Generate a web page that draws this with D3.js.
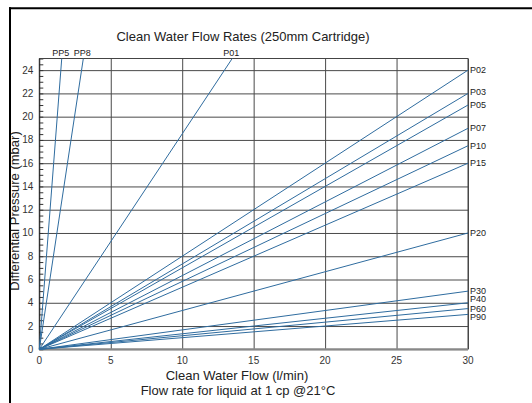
<!DOCTYPE html>
<html>
<head>
<meta charset="utf-8">
<script src="https://cdn.jsdelivr.net/npm/d3@7"></script>
<style>
  body { margin: 0; background: #fff; }
  text { font-family: "Liberation Sans", Arial, sans-serif; }
</style>
</head>
<body>
<div id="chart"></div>
<script>
// Clean water flow rates chart

var seriesNames = ['PP5', 'PP8', 'P01', 'P02', 'P03', 'P05', 'P07', 'P10', 'P15', 'P20', 'P30', 'P40', 'P60', 'P90'];
// where each line leaves the chart (flow l/min, pressure mbar)
var endFlow = [1.57, 3.08, 13.5, 30, 30, 30, 30, 30, 30, 30, 30, 30, 30, 30];
var endPressure = [25, 25, 25, 24, 22, 21, 19, 17.5, 16, 10, 5, 4, 3.5, 3];

var xTicks = [0, 5, 10, 15, 20, 25, 30];
var yTicks = [0, 2, 4, 6, 8, 10, 12, 14, 16, 18, 20, 22, 24];

var width = 532, height = 403;

var margin = {
    top: 58.5,
    bottom: 53.7,
    left: 39.3,
    right: 64
}

var svg = d3.select('#chart')
    .append('svg')
    .attr('width', width)
    .attr('height', height);

var w = width - margin.left - margin.right;
var h = height - margin.top - margin.bottom;

var x = d3.scaleLinear().domain([0, 30]).range([0, w]);
var y = d3.scaleLinear().domain([0, 25]).range([h, 0]);

var g = svg.append('g')
    .attr('transform', 'translate(' + margin.left + ',' + margin.top + ')');

// grid lines
g.append('g')
    .attr('class', 'grid')
    .call(d3.axisLeft(y).tickValues(yTicks).tickSize(-w).tickFormat(''))
    .call(function(s) {
        s.select('.domain').remove();
        s.selectAll('line').attr('stroke', '#4a4a4a').attr('stroke-width', 1);
    });

g.append('g')
    .attr('class', 'grid')
    .attr('transform', 'translate(0,' + h + ')')
    .call(d3.axisBottom(x).tickValues(xTicks).tickSize(-h).tickFormat(''))
    .call(function(s) {
        s.select('.domain').remove();
        s.selectAll('line').attr('stroke', '#4a4a4a').attr('stroke-width', 1);
    });

// minor ticks on left axis
g.append('g')
    .call(d3.axisRight(y).tickValues(d3.range(0, 25.01, 0.5)).tickSize(4).tickFormat(''))
    .call(function(s) {
        s.select('.domain').remove();
        s.selectAll('line').attr('stroke', '#333');
    });

// frame of the plot
g.append('line').attr('x1', 0).attr('x2', w).attr('y1', 0).attr('y2', 0)
    .attr('stroke', '#444');
g.append('line').attr('x1', w).attr('x2', w).attr('y1', 0).attr('y2', h)
    .attr('stroke', '#444');
g.append('line').attr('x1', 0).attr('x2', 0).attr('y1', 0).attr('y2', h)
    .attr('stroke', '#222');
g.append('line').attr('x1', 0).attr('x2', w).attr('y1', h).attr('y2', h)
    .attr('stroke', '#888').attr('stroke-width', 2);

// tick labels
g.selectAll('.xlab')
    .data(xTicks)
    .enter()
    .append('text')
    .attr('x', function(d) { return x(d); })
    .attr('y', h + 14.5)
    .attr('text-anchor', 'middle')
    .attr('font-size', 10)
    .attr('fill', '#333')
    .text(function(d) { return d; });

g.selectAll('.ylab')
    .data(yTicks)
    .enter()
    .append('text')
    .attr('x', -6)
    .attr('y', function(d) { return y(d) + 3.5; })
    .attr('text-anchor', 'end')
    .attr('font-size', 10)
    .attr('fill', '#333')
    .text(function(d) { return d; });

// series lines
var lines = seriesNames.map(function(n, i) {
    return { name: n, flow: endFlow[i], p: endPressure[i] };
});

g.selectAll('.series')
    .data(lines)
    .enter()
    .append('line')
    .attr('x1', x(0))
    .attr('y1', y(0))
    .attr('x2', function(d) { return x(d.flow); })
    .attr('y2', function(d) { return y(d.p); })
    .attr('stroke', '#2f6c9f')
    .attr('stroke-width', 1);

// labels for lines
var nudge = { P03: -2, P30: -0.5, P40: -3.5, P60: -0.2, P90: 2.6, P05: -0.5 };

g.selectAll('.slab')
    .data(lines)
    .enter()
    .append('text')
    .attr('font-size', 9)
    .attr('fill', '#222')
    .attr('x', function(d) { return d.flow < 30 ? x(d.flow) - 1 : w + 2; })
    .attr('y', function(d) {
        if (d.flow < 30) return -3;
        return y(d.p) + 3.2 + (nudge[d.name] || 0);
    })
    .attr('text-anchor', function(d) { return d.flow < 30 ? 'middle' : 'start'; })
    .text(function(d) { return d.name; });

// title
svg.append('text')
    .attr('x', 243)
    .attr('y', 41.3)
    .attr('text-anchor', 'middle')
    .attr('font-size', 13)
    .attr('fill', '#222')
    .text('Clean Water Flow Rates (250mm Cartridge)');

// x axis label
svg.append('text')
    .attr('x', 237)
    .attr('y', 380)
    .attr('text-anchor', 'middle')
    .attr('font-size', 13)
    .attr('fill', '#222')
    .text('Clean Water Flow (l/min)');

svg.append('text')
    .attr('x', 238)
    .attr('y', 395)
    .attr('text-anchor', 'middle')
    .attr('font-size', 13)
    .attr('fill', '#222')
    .text('Flow rate for liquid at 1 cp @21°C');

// y axis label, clipped by the outer frame
svg.append('clipPath').attr('id', 'clipL')
    .append('rect').attr('x', 11).attr('y', 0).attr('width', 60).attr('height', height);

svg.append('g')
    .attr('clip-path', 'url(#clipL)')
    .append('text')
    .attr('transform', 'translate(19,211) rotate(-90)')
    .attr('text-anchor', 'middle')
    .attr('font-size', 13)
    .attr('fill', '#222')
    .text('Differential Pressure (mbar)');

// outer frame (only top and left visible)
svg.append('line').attr('x1', 9).attr('x2', width).attr('y1', 8.2).attr('y2', 8.2)
    .attr('stroke', '#000').attr('stroke-width', 2);
svg.append('line').attr('x1', 10).attr('x2', 10).attr('y1', 7.2).attr('y2', height)
    .attr('stroke', '#000').attr('stroke-width', 2);
</script>
</body>
</html>
